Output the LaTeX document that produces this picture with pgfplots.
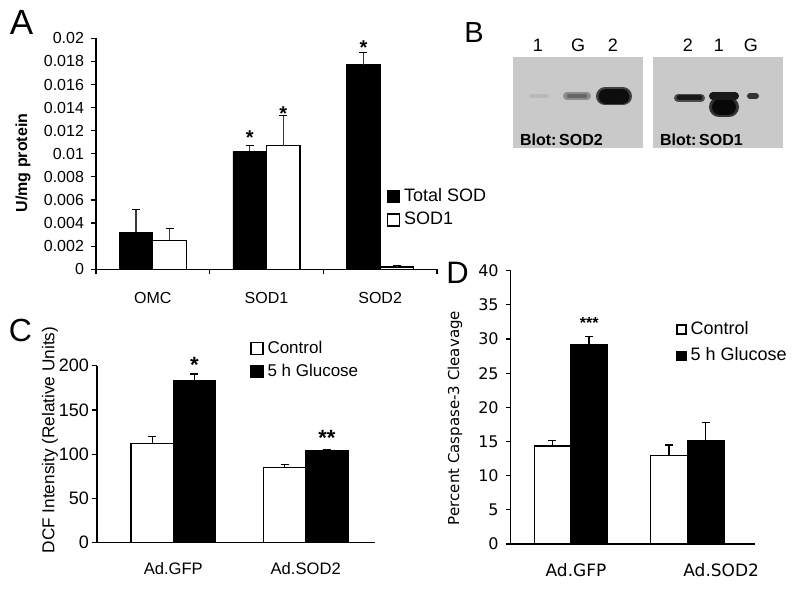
\documentclass[border=0pt]{standalone}
\usepackage{pgfplots}
\pgfplotsset{compat=1.18}
\usepackage{fontspec}
\setmainfont{Liberation Sans}
\newfontfamily\dvs{DejaVu Sans}

\definecolor{blot}{HTML}{C9C9C9}
\definecolor{errgray}{HTML}{3A3A3A}

\tikzset{star/.style={font=\bfseries\fontsize{#1}{#1}\selectfont, yshift=-0.22*#1pt}}

\pgfplotsset{
  panel/.style={
    scale only axis, anchor=south west, clip=false,
    axis lines*=left, tick align=outside,
    axis line style={line width=0.6pt},
    tick style={line width=0.6pt, black},
    major tick length=2.5pt,
    /pgf/number format/assume math mode=true,
    ybar=0pt, legend cell align=left,
    legend style={draw=none, fill=none, inner sep=0pt},
  },
  errs/.style={error bars/.cd, y dir=plus, y explicit,
    error bar style={line width=0.6pt, black},
    error mark options={rotate=90, mark size=2pt, line width=0.6pt, black}},
  blotbox/.style={
    scale only axis, anchor=south west, clip=false,
    axis line style={draw=none}, ticks=none,
    axis background/.style={fill=blot},
    xmin=0, xmax=130, ymin=57, ymax=148, y dir=reverse,
  },
}

\begin{document}
\begin{tikzpicture}
\path[use as bounding box] (0,0) rectangle (400pt,295pt);

% panel letters
\node[font=\fontsize{17.5}{18}\selectfont] at (10.75pt,283.75pt) {A};
\node[font=\fontsize{14.5}{15}\selectfont] at (237pt,278.5pt) {B};
\node[font=\fontsize{16}{16}\selectfont] at (10.25pt,130pt) {C};
\node[font=\fontsize{15.5}{16}\selectfont] at (228.75pt,158.75pt) {D};

% ---------------- A ----------------
\begin{axis}[panel,
  at={(48pt,160.35pt)}, width=170.5pt, height=115.5pt,
  xmin=-0.5, xmax=2.5, ymin=0, ymax=0.02,
  bar width=16.75pt,
  ytick={0,0.002,0.004,0.006,0.008,0.01,0.012,0.014,0.016,0.018,0.02},
  scaled y ticks=false,
  yticklabel style={/pgf/number format/fixed, /pgf/number format/precision=3},
  tick label style={font=\fontsize{8}{9}\selectfont},
  xtick={-0.5,0.5,1.5,2.5}, xticklabels={,,,},
  extra x ticks={0,1,2}, extra x tick labels={OMC,SOD1,SOD2},
  extra x tick style={major tick length=0pt, tick label style={yshift=-8pt}},
  ylabel={\textbf{U/mg protein}},
  ylabel style={at={(rel axis cs:-0.214,0.46)}, anchor=center, font=\fontsize{8}{9}\selectfont},
  legend style={at={(rel axis cs:0.852,0.37)}, anchor=north west,
    font=\fontsize{9}{10}\selectfont, row sep=0pt},
  legend image code/.code={\draw[#1, draw=black, line width=0.6pt] (0pt,-3pt) rectangle (6pt,3pt);},
]
\addplot[fill=black, draw=black, errs, error bar style={errgray}] coordinates {
  (0,0.0032) +- (0,0.0020)
  (1,0.0102) +- (0,0.0005)
  (2,0.0177) +- (0,0.0011)
};
\addplot[fill=white, draw=black, line width=0.6pt, errs, error bar style={errgray}] coordinates {
  (0,0.0025) +- (0,0.0010)
  (1,0.0107) +- (0,0.0026)
  (2,0.0002) +- (0,0.0001)
};
\legend{Total SOD, SOD1}
\node[star=10] at (axis cs:0.853,0.0118) {*};
\node[star=10] at (axis cs:1.147,0.0139) {*};
\node[star=10] at (axis cs:1.853,0.0196) {*};
\end{axis}

% ---------------- B ----------------
\begin{axis}[blotbox, at={(256.5pt,221pt)}, width=65pt, height=45.5pt]
\addplot[line width=2pt, line cap=round, color=black!28] coordinates {(18,96) (34,96)};
\addplot[line width=4pt, line cap=round, color=black!45] coordinates {(54,96) (74,96)};
\addplot[line width=2.2pt, line cap=round, color=black!60] coordinates {(56,96) (72,96)};
\addplot[line width=9pt, line cap=round, color=black!75] coordinates {(92,96.5) (110,96.5)};
\addplot[line width=7.5pt, line cap=round, color=black!95] coordinates {(93,96.5) (109,96.5)};
\node[anchor=west, font=\bfseries\fontsize{8}{9}\selectfont] at (axis cs:0,140) {Blot:\,SOD2};
\node[font=\fontsize{9}{10}\selectfont] at (axis cs:25,45) {1};
\node[font=\fontsize{9}{10}\selectfont] at (axis cs:65,45) {G};
\node[font=\fontsize{9}{10}\selectfont] at (axis cs:100,45) {2};
\end{axis}

\begin{axis}[blotbox, at={(326.5pt,221pt)}, width=65pt, height=45.5pt]
\addplot[line width=4pt, line cap=round, color=black!70] coordinates {(25,98) (48,98)};
\addplot[line width=2.5pt, line cap=round, color=black!90] coordinates {(26,98) (47,98)};
\addplot[line width=10pt, line cap=round, color=black!80] coordinates {(66,107) (76,107)};
\addplot[line width=8pt, line cap=round, color=black!97] coordinates {(67,107) (75,107)};
\addplot[line width=4pt, line cap=round, color=black!90] coordinates {(60,96) (82,96)};
\addplot[line width=3pt, line cap=round, color=black!80] coordinates {(97,96) (103,96)};
\node[anchor=west, font=\bfseries\fontsize{8}{9}\selectfont] at (axis cs:0,140) {Blot:\,SOD1};
\node[font=\fontsize{9}{10}\selectfont] at (axis cs:35,45) {2};
\node[font=\fontsize{9}{10}\selectfont] at (axis cs:66,45) {1};
\node[font=\fontsize{9}{10}\selectfont] at (axis cs:98,45) {G};
\end{axis}

% ---------------- C ----------------
\begin{axis}[panel,
  at={(48.5pt,23.65pt)}, width=139pt, height=88.5pt,
  xmin=-0.576, xmax=1.523, ymin=0, ymax=200,
  ytick={0,50,100,150,200},
  bar width=21.15pt,
  xtick={0,1}, xticklabels={Ad.GFP,Ad.SOD2}, xtick style={draw=none},
  x tick label style={font=\fontsize{8.3}{9}\selectfont, yshift=-4pt},
  y tick label style={font=\fontsize{9}{10}\selectfont, xshift=2pt},
  ylabel={DCF Intensity (Relative Units)},
  ylabel style={at={(rel axis cs:-0.169,0.58)}, anchor=center, font=\fontsize{8.6}{9}\selectfont},
  legend style={at={(rel axis cs:0.55,1.165)}, anchor=north west,
    font=\fontsize{8.5}{9}\selectfont, row sep=0pt},
  legend image code/.code={\draw[#1, draw=black, line width=0.6pt] (0pt,-3pt) rectangle (6pt,3pt);},
]
\addplot[fill=white, draw=black, line width=0.6pt, errs] coordinates {
  (0,112.3) +- (0,7.5)
  (1,84.7) +- (0,3.4)
};
\addplot[fill=black, draw=black, errs] coordinates {
  (0,183.5) +- (0,7.1)
  (1,104.0) +- (0,1.5)
};
\legend{Control, 5 h Glucose}
\node[star=11] at (axis cs:0.16,206) {*};
\node[star=11] at (axis cs:1.16,124) {**};
\end{axis}

% ---------------- D ----------------
\begin{axis}[panel,
  at={(255.35pt,23pt)}, width=122.15pt, height=136.65pt,
  xmin=-0.515, xmax=1.58, ymin=0, ymax=40,
  ytick={0,5,10,15,20,25,30,35,40},
  bar width=18.3pt,
  xtick={0.045,1.29}, xticklabels={Ad.GFP,Ad.SOD2}, xtick style={draw=none},
  x tick label style={font=\dvs\fontsize{8.5}{9}\selectfont, yshift=-4pt},
  y tick label style={font=\dvs\fontsize{8}{9}\selectfont},
  ylabel={Percent Caspase-3 Cleavage},
  ylabel style={at={(rel axis cs:-0.228,0.461)}, anchor=center, font=\dvs\fontsize{7.5}{8}\selectfont},
  legend style={at={(rel axis cs:0.677,0.83)}, anchor=north west,
    font=\fontsize{9}{10}\selectfont, row sep=1pt},
  legend image code/.code={\draw[#1, draw=black, line width=0.6pt] (0pt,-2.25pt) rectangle (4.5pt,2.25pt);},
]
\addplot[fill=white, draw=black, line width=0.6pt, errs] coordinates {
  (0,14.35) +- (0,0.85)
  (1,13.0) +- (0,1.5)
};
\addplot[fill=black, draw=black, errs] coordinates {
  (0,29.2) +- (0,1.2)
  (1,15.2) +- (0,2.6)
};
\legend{Control, 5 h Glucose}
\node[star=8] at (axis cs:0.158,32.8) {***};
\end{axis}
\end{tikzpicture}
\end{document}
